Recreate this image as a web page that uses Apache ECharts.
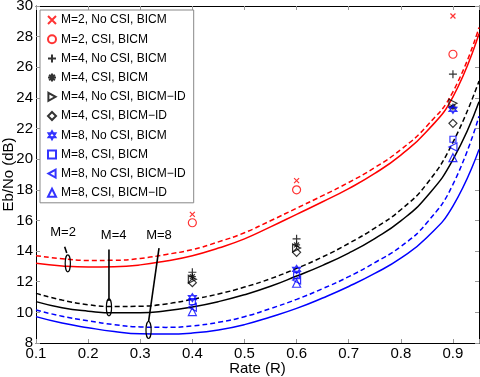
<!DOCTYPE html>
<html>
<head>
<meta charset="utf-8">
<script src="https://cdn.jsdelivr.net/npm/echarts@6/dist/echarts.min.js"></script>
<style>
  html, body { margin: 0; padding: 0; background: #fff; }
  #chart { width: 480px; height: 377px; }
</style>
</head>
<body>
<div id="chart"></div>
<script>
// rate grid for the theoretical curves
const rates = [0.1, 0.15, 0.2, 0.25, 0.3, 0.35, 0.4, 0.45, 0.5, 0.55, 0.6, 0.65, 0.7, 0.75, 0.8, 0.85, 0.9, 0.95];
const m2Csi   = [13.2, 13.03, 12.96, 12.98, 13.1, 13.36, 13.7, 14.2, 14.8, 15.58, 16.4, 17.22, 18.08, 19.07, 20.27, 21.82, 24.07, 28.2];
const m2NoCsi = [13.7, 13.5, 13.39, 13.4, 13.52, 13.78, 14.1, 14.6, 15.2, 15.98, 16.8, 17.62, 18.48, 19.45, 20.63, 22.17, 24.4, 28.6];
const m4Csi   = [10.7, 10.3, 10.08, 9.97, 9.97, 10.1, 10.35, 10.7, 11.15, 11.7, 12.37, 13.07, 13.87, 14.82, 15.97, 17.57, 19.97, 23.75];
const m4NoCsi = [11.24, 10.8, 10.5, 10.38, 10.4, 10.55, 10.85, 11.2, 11.65, 12.2, 12.87, 13.62, 14.5, 15.5, 16.7, 18.4, 21.1, 25.1];
const m8Csi   = [9.72, 9.3, 9.0, 8.75, 8.6, 8.58, 8.65, 8.85, 9.2, 9.7, 10.26, 10.94, 11.69, 12.54, 13.54, 14.89, 16.94, 20.64];
const m8NoCsi = [10.15, 9.75, 9.45, 9.2, 9.05, 9.02, 9.12, 9.35, 9.72, 10.25, 10.85, 11.55, 12.33, 13.25, 14.3, 15.85, 18.35, 22.8];

// simulated points
const simRates = [0.4, 0.6, 0.9];
const simNames = [
  'M=2, No CSI, BICM', 'M=2, CSI, BICM',
  'M=4, No CSI, BICM', 'M=4, CSI, BICM', 'M=4, No CSI, BICM\u2212ID', 'M=4, CSI, BICM\u2212ID',
  'M=8, No CSI, BICM', 'M=8, CSI, BICM', 'M=8, No CSI, BICM\u2212ID', 'M=8, CSI, BICM\u2212ID'
];
const simValues = [
  [16.4, 18.6, 29.35],
  [15.85, 18.0, 26.85],
  [12.62, 14.8, 25.55],
  [12.33, 14.4, 23.4],
  [12.16, 14.2, 23.65],
  [11.94, 13.92, 22.34],
  [10.96, 12.81, 23.25],
  [10.7, 12.4, 21.3],
  [10.33, 12.11, 20.8],
  [10.05, 11.9, 20.1]
];

// annotations (data coordinates)
const noteLabels = ['M=2', 'M=4', 'M=8'];
const noteEllipse = [[0.161, 13.2], [0.24, 10.33], [0.316, 8.85]];
const noteText = [[0.152, 15.25], [0.249, 15.0], [0.336, 15.0]];
const noteFrom = [[0.155, 14.29], [0.24, 14.1], [0.336, 14.2]];
const noteTo = [[0.159, 13.87], [0.24, 10.75], [0.316, 9.39]];

const FONT = "'Liberation Sans', Arial, Helvetica, sans-serif";

const markers = [
  { symbol: 'path://M-10,-10L10,10M-10,10L10,-10', size: 5, color: '#ff0000' },
  { symbol: 'circle', size: 8, color: '#ff0000' },
  { symbol: 'path://M0,-10L0,10M-10,0L10,0', size: 8, color: '#000' },
  { symbol: 'path://M0,-10L0,10M-10,0L10,0M-7,-7L7,7M-7,7L7,-7', size: 7, color: '#000' },
  { symbol: 'path://M-8,-10L10,0L-8,10Z', size: 8, color: '#000' },
  { symbol: 'diamond', size: 8, color: '#000' },
  { symbol: 'path://M0,-10L8.66,5L-8.66,5ZM0,10L8.66,-5L-8.66,-5Z', size: 8, color: '#0000ff' },
  { symbol: 'rect', size: 6, color: '#0000ff' },
  { symbol: 'path://M8,-10L-10,0L8,10Z', size: 8, color: '#0000ff' },
  { symbol: 'triangle', size: 8, color: '#0000ff' }
];

const pair = (xs, ys) => xs.map((x, i) => [x, ys[i]]);

const curve = (vals, color, dashed) => ({
  type: 'line',
  data: pair(rates, vals),
  smooth: true,
  symbol: 'none',
  silent: true,
  z: 2,
  lineStyle: { color: color, width: 1.5, type: dashed ? [5, 3] : 'solid' }
});

const series = [
  curve(m2Csi, '#ff0000', false),
  curve(m2NoCsi, '#ff0000', true),
  curve(m4Csi, '#000000', false),
  curve(m4NoCsi, '#000000', true),
  curve(m8Csi, '#0000ff', false),
  curve(m8NoCsi, '#0000ff', true)
];

simNames.forEach((name, i) => {
  const m = markers[i];
  series.push({
    name: name,
    type: 'scatter',
    data: pair(simRates, simValues[i]),
    symbol: m.symbol,
    symbolSize: m.size,
    z: 5,
    itemStyle: { color: 'transparent', borderColor: m.color, borderWidth: 1.2 }
  });
});

series.push({
  type: 'custom',
  silent: true,
  z: 6,
  data: noteLabels.map((t, i) => i),
  renderItem: function (params, api) {
    const i = api.value(0);
    const e = api.coord(noteEllipse[i]);
    const t = api.coord(noteText[i]);
    const a = api.coord(noteFrom[i]);
    const b = api.coord(noteTo[i]);
    return {
      type: 'group',
      children: [
        { type: 'ellipse', shape: { cx: e[0], cy: e[1], rx: 2.6, ry: 8.5 },
          style: { fill: 'none', stroke: '#000', lineWidth: 1.2 } },
        { type: 'line', shape: { x1: a[0], y1: a[1], x2: b[0], y2: b[1] },
          style: { stroke: '#000', lineWidth: 1.6 } },
        { type: 'text', x: t[0], y: t[1],
          style: { text: noteLabels[i], fill: '#000', font: '13px ' + FONT, align: 'center', verticalAlign: 'middle' } }
      ]
    };
  }
});

const tickStyle = { inside: true, length: 4, lineStyle: { color: '#999', width: 1 } };
const lineStyle = { show: true, lineStyle: { color: '#000', width: 1 } };

const option = {
  backgroundColor: '#fff',
  animation: false,
  textStyle: { fontFamily: FONT },
  grid: { left: 36, right: 1, top: 6, bottom: 34, containLabel: false, outerBoundsMode: 'none' },
  legend: {
    data: simNames,
    orient: 'vertical',
    left: 40,
    top: 10,
    itemWidth: 8,
    itemHeight: 8,
    itemGap: 7.2,
    padding: [4, 8, 4, 7],
    backgroundColor: '#fff',
    borderColor: '#888',
    borderWidth: 1,
    borderRadius: 0,
    textStyle: { fontSize: 12, color: '#000', fontFamily: FONT },
    selectedMode: false
  },
  xAxis: [{
    type: 'value',
    min: 0.1,
    max: 0.95,
    interval: 0.1,
    name: 'Rate (R)',
    nameLocation: 'middle',
    nameGap: 18,
    nameMoveOverlap: false,
    nameTextStyle: { fontSize: 15, color: '#000' },
    axisLine: lineStyle,
    axisTick: tickStyle,
    splitLine: { show: false },
    axisLabel: {
      fontSize: 15, color: '#000', margin: 3,
      formatter: v => (v > 0.91 ? '' : v.toFixed(1))
    }
  }, {
    type: 'value',
    position: 'top',
    min: 0.1,
    max: 0.95,
    interval: 0.1,
    axisLine: lineStyle,
    axisTick: tickStyle,
    axisLabel: { show: false },
    splitLine: { show: false }
  }],
  yAxis: [{
    type: 'value',
    min: 8,
    max: 30,
    interval: 2,
    name: 'Eb/No (dB)',
    nameLocation: 'middle',
    nameGap: 20,
    nameMoveOverlap: false,
    nameTextStyle: { fontSize: 15, color: '#000' },
    axisLine: lineStyle,
    axisTick: tickStyle,
    splitLine: { show: false },
    axisLabel: { fontSize: 15, color: '#000', margin: 3 }
  }, {
    type: 'value',
    position: 'right',
    min: 8,
    max: 30,
    interval: 2,
    axisLine: lineStyle,
    axisTick: tickStyle,
    axisLabel: { show: false },
    splitLine: { show: false }
  }],
  series: series
};

const chart = echarts.init(document.getElementById('chart'), null, { renderer: 'canvas' });
chart.setOption(option);
</script>
</body>
</html>
